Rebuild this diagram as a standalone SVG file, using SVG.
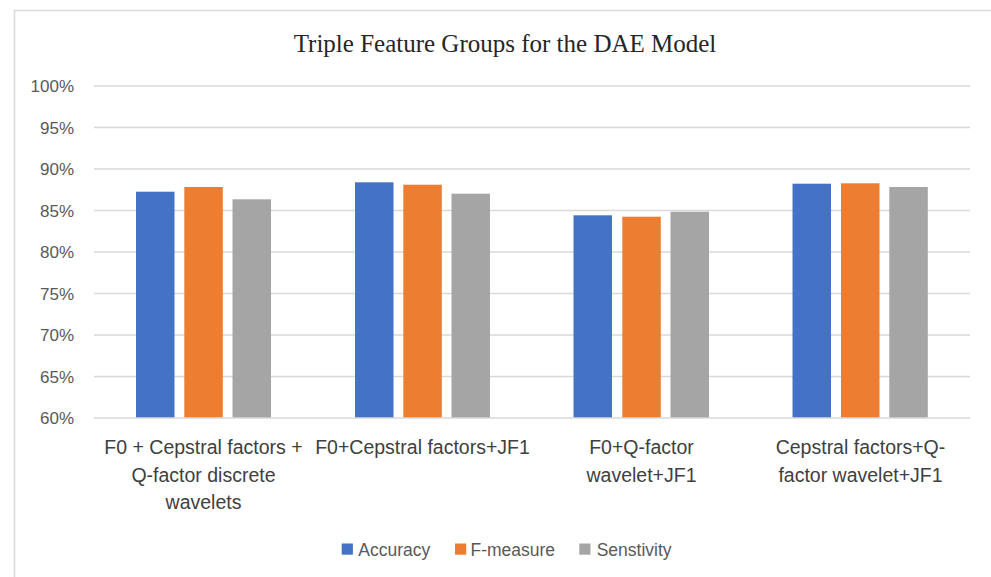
<svg xmlns="http://www.w3.org/2000/svg" width="991" height="577" viewBox="0 0 991 577">
<style>
.grid{stroke:#D9D9D9;stroke-width:1.6;fill:none}
.frame{stroke:#D9D9D9;stroke-width:1.6;fill:none}
.ylab{font-family:"Liberation Sans",Arial,sans-serif;font-size:17px;fill:#595959;text-anchor:end}
.cat{font-family:"Liberation Sans",Arial,sans-serif;font-size:19.5px;fill:#404040;text-anchor:middle}
.leg{font-family:"Liberation Sans",Arial,sans-serif;font-size:17.5px;fill:#595959}
.title{font-family:"Liberation Serif","Times New Roman",serif;font-size:25px;fill:#262626;text-anchor:middle}
.acc{fill:#4472C4}
.fm{fill:#ED7D31}
.sen{fill:#A5A5A5}
</style>
<rect x="0" y="0" width="991" height="577" fill="#FFFFFF"/>
<path class="frame" d="M14.5 577 V10.5 H991"/>
<text class="title" x="505" y="52">Triple Feature Groups for the DAE Model</text>
<g id="gridlines">
<line class="grid" x1="94" y1="86" x2="970" y2="86"/>
<line class="grid" x1="94" y1="127.5" x2="970" y2="127.5"/>
<line class="grid" x1="94" y1="169" x2="970" y2="169"/>
<line class="grid" x1="94" y1="210.5" x2="970" y2="210.5"/>
<line class="grid" x1="94" y1="252" x2="970" y2="252"/>
<line class="grid" x1="94" y1="293.5" x2="970" y2="293.5"/>
<line class="grid" x1="94" y1="335" x2="970" y2="335"/>
<line class="grid" x1="94" y1="376.5" x2="970" y2="376.5"/>
</g>
<g id="y-axis">
<text class="ylab" x="74" y="92">100%</text>
<text class="ylab" x="74" y="133.5">95%</text>
<text class="ylab" x="74" y="175">90%</text>
<text class="ylab" x="74" y="216.5">85%</text>
<text class="ylab" x="74" y="258">80%</text>
<text class="ylab" x="74" y="299.5">75%</text>
<text class="ylab" x="74" y="341">70%</text>
<text class="ylab" x="74" y="382.5">65%</text>
<text class="ylab" x="74" y="424">60%</text>
</g>
<g id="group1">
<rect class="acc" x="136" y="191.7" width="38.5" height="226.3"/>
<rect class="fm" x="184.3" y="187" width="38.5" height="231"/>
<rect class="sen" x="232.5" y="199.3" width="38.5" height="218.7"/>
<text class="cat" x="203.5" y="454">F0 + Cepstral factors +</text>
<text class="cat" x="203.5" y="481.5">Q-factor discrete</text>
<text class="cat" x="203.5" y="509">wavelets</text>
</g>
<g id="group2">
<rect class="acc" x="355" y="182.3" width="38.5" height="235.7"/>
<rect class="fm" x="403.3" y="184.7" width="38.5" height="233.3"/>
<rect class="sen" x="451.5" y="193.7" width="38.5" height="224.3"/>
<text class="cat" x="422.5" y="454">F0+Cepstral factors+JF1</text>
</g>
<g id="group3">
<rect class="acc" x="573.5" y="215.3" width="38.5" height="202.7"/>
<rect class="fm" x="622.3" y="216.7" width="38.5" height="201.3"/>
<rect class="sen" x="670.5" y="211.7" width="38.5" height="206.3"/>
<text class="cat" x="641.5" y="454">F0+Q-factor</text>
<text class="cat" x="641.5" y="481.5">wavelet+JF1</text>
</g>
<g id="group4">
<rect class="acc" x="792.5" y="183.7" width="38.5" height="234.3"/>
<rect class="fm" x="841" y="183.3" width="38.5" height="234.7"/>
<rect class="sen" x="889.3" y="187" width="38.5" height="231"/>
<text class="cat" x="860.5" y="454">Cepstral factors+Q-</text>
<text class="cat" x="860.5" y="481.5">factor wavelet+JF1</text>
</g>
<g id="axis">
<line class="grid" x1="94" y1="418" x2="970" y2="418"/>
</g>
<g id="legend">
<rect class="acc" x="341.7" y="543.5" width="11.2" height="11.2"/>
<text class="leg" x="358.3" y="555.5">Accuracy</text>
<rect class="fm" x="455" y="543.5" width="11.2" height="11.2"/>
<text class="leg" x="470.5" y="555.5">F-measure</text>
<rect class="sen" x="579.3" y="543.5" width="11.2" height="11.2"/>
<text class="leg" x="596.7" y="555.5">Senstivity</text>
</g>
</svg>
